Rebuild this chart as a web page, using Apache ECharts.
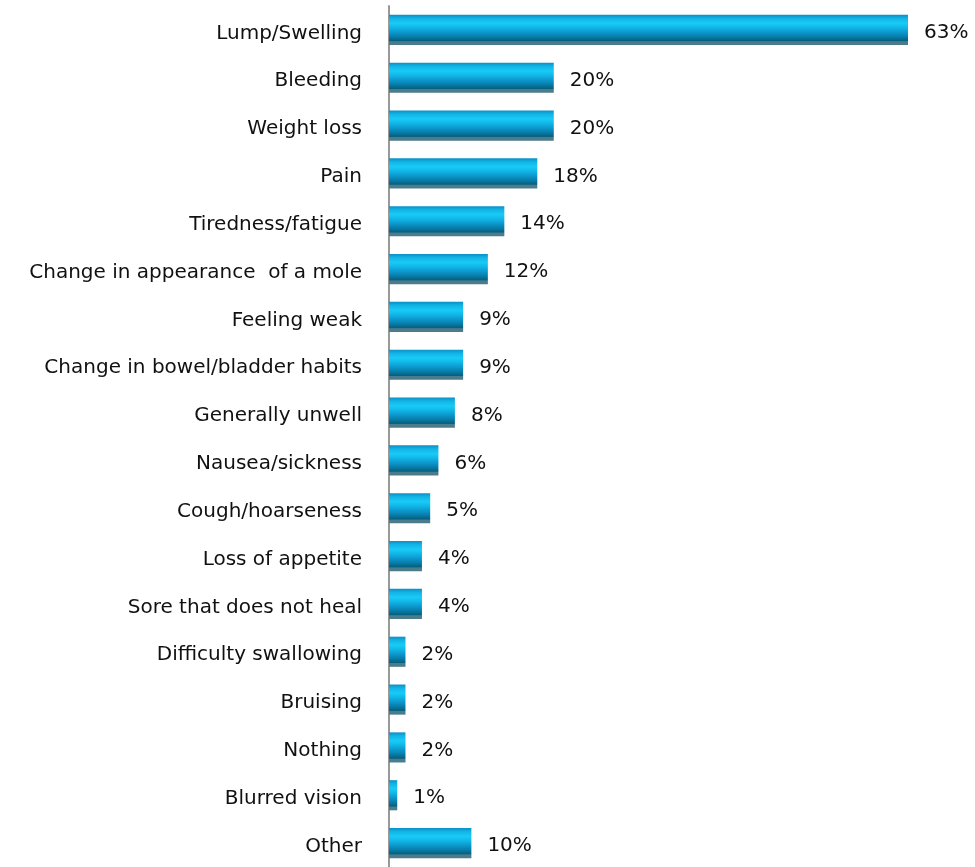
<!DOCTYPE html>
<html>
<head>
<meta charset="utf-8">
<script src="https://cdn.jsdelivr.net/npm/echarts@6/dist/echarts.min.js"></script>
<style>
  html, body { margin: 0; padding: 0; background: #fff; }
  #chart { width: 975px; height: 867px; }
</style>
</head>
<body>
<div id="chart"></div>
<script>
// Symptoms, top to bottom as listed
const categories = [
  'Lump/Swelling', 'Bleeding', 'Weight loss', 'Pain', 'Tiredness/fatigue',
  'Change in appearance  of a mole', 'Feeling weak', 'Change in bowel/bladder habits',
  'Generally unwell', 'Nausea/sickness', 'Cough/hoarseness', 'Loss of appetite',
  'Sore that does not heal', 'Difficulty swallowing', 'Bruising', 'Nothing',
  'Blurred vision', 'Other'
];
// Share of respondents (%)
const percentages = [63, 20, 20, 18, 14, 12, 9, 9, 8, 6, 5, 4, 4, 2, 2, 2, 1, 10];

const chart = echarts.init(document.getElementById('chart'), null, { renderer: 'canvas' });

// Cylinder-like shading across each bar's thickness
const barFill = new echarts.graphic.LinearGradient(0, 0, 0, 1, [
  { offset: 0.00, color: '#0b8fc6' },
  { offset: 0.12, color: '#12b4e6' },
  { offset: 0.28, color: '#18cbf6' },
  { offset: 0.42, color: '#12b6e8' },
  { offset: 0.58, color: '#0c98cc' },
  { offset: 0.72, color: '#087eab' },
  { offset: 0.86, color: '#05607f' },
  { offset: 0.89, color: '#4c7b8c' },
  { offset: 1.00, color: '#4c7b8c' }
]);

const textStyle = { color: '#111111', fontFamily: 'DejaVu Sans', fontSize: 20 };

chart.setOption({
  animation: false,
  grid: { left: 389, right: 67, top: 6, bottom: 0, containLabel: false },
  xAxis: { type: 'value', min: 0, max: 63, show: false },
  yAxis: {
    type: 'category',
    inverse: true,
    data: categories,
    axisLine: { show: true, lineStyle: { color: '#999999', width: 2 } },
    axisTick: { show: false },
    axisLabel: {
      margin: 27,
      formatter: v => '{t|' + v + '}',
      rich: { t: Object.assign({ padding: [7, 0, 0, 0] }, textStyle) }
    },
    splitLine: { show: false }
  },
  series: [{
    type: 'bar',
    data: percentages,
    barCategoryGap: '37%',
    itemStyle: { color: barFill },
    label: Object.assign({
      show: true,
      position: 'right',
      distance: 16,
      offset: [0, 3],
      formatter: p => p.value + '%'
    }, textStyle)
  }]
});
</script>
</body>
</html>
